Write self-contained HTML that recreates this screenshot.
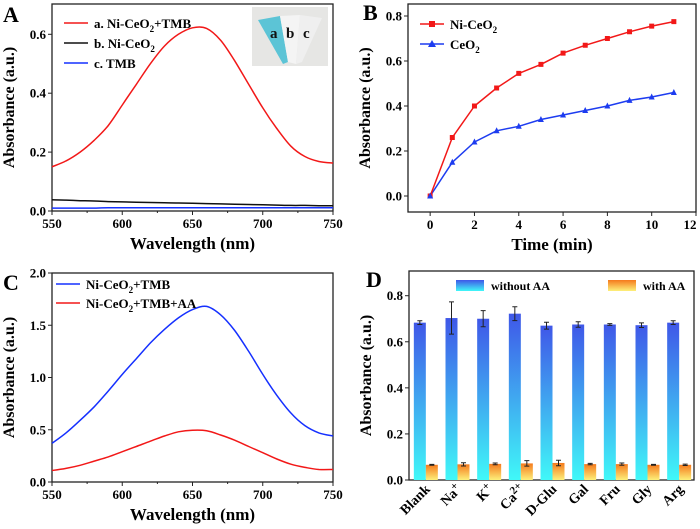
<!DOCTYPE html>
<html><head><meta charset="utf-8"><style>
body{margin:0;background:#fff}
svg{display:block;font-family:"Liberation Serif",serif;font-weight:bold}
</style></head><body>
<svg id="s" width="700" height="529" viewBox="0 0 700 529">
<defs>
<linearGradient id="gb" x1="0" y1="0" x2="0" y2="1"><stop offset="0" stop-color="#3f57e8"/><stop offset="1" stop-color="#40f8f8"/></linearGradient>
<linearGradient id="go" x1="0" y1="0" x2="0" y2="1"><stop offset="0" stop-color="#f57a1c"/><stop offset="1" stop-color="#fdf07a"/></linearGradient>
</defs>
</svg>
<script>
// Panel A data
const wl = [550,560,570,580,590,600,610,620,630,640,650,660,670,680,690,700,710,720,730,740,750];
const aRed = [0.15,0.17,0.20,0.24,0.29,0.36,0.43,0.50,0.56,0.60,0.622,0.62,0.58,0.51,0.43,0.35,0.28,0.22,0.185,0.168,0.163];
const aBlack = [0.038,0.037,0.035,0.034,0.032,0.031,0.030,0.029,0.028,0.027,0.026,0.025,0.024,0.023,0.022,0.021,0.020,0.019,0.019,0.018,0.018];
const aBlue = [0.010,0.010,0.010,0.010,0.011,0.011,0.011,0.011,0.011,0.011,0.011,0.011,0.011,0.011,0.011,0.011,0.011,0.011,0.011,0.011,0.011];
// Panel B data
const times = [0,1,2,3,4,5,6,7,8,9,10,11];
const bNi = [0,0.26,0.40,0.48,0.545,0.585,0.635,0.67,0.70,0.73,0.755,0.775];
const bCe = [0,0.15,0.24,0.29,0.31,0.34,0.36,0.38,0.40,0.425,0.44,0.46];
// Panel C data
const cBlue = [0.37,0.47,0.59,0.72,0.87,1.03,1.18,1.33,1.46,1.57,1.65,1.68,1.60,1.45,1.25,1.03,0.83,0.66,0.54,0.47,0.44];
const cRed = [0.11,0.13,0.16,0.20,0.24,0.29,0.34,0.39,0.44,0.48,0.495,0.49,0.45,0.40,0.34,0.28,0.22,0.17,0.14,0.12,0.12];
// Panel D data
const cats = ["Blank","Na+","K+","Ca2+","D-Glu","Gal","Fru","Gly","Arg"];
const dWithout = [0.683,0.703,0.700,0.722,0.670,0.675,0.675,0.672,0.683];
const dWithoutErr = [0.008,0.07,0.035,0.03,0.015,0.012,0.004,0.01,0.008];
const dWith = [0.066,0.068,0.070,0.072,0.074,0.069,0.069,0.066,0.066];
const dWithErr = [0.002,0.007,0.004,0.012,0.012,0.003,0.005,0.002,0.003];
const ticksA = [0,0.2,0.4,0.6], ticksB = [0,0.2,0.4,0.6,0.8], ticksC = [0,0.5,1.0,1.5,2.0], ticksD = [0,0.2,0.4,0.6,0.8];
const ticksWl = [550,600,650,700,750], ticksT = [0,2,4,6,8,10,12];

const S = document.getElementById('s');
const NS = 'http://www.w3.org/2000/svg';
function el(tag, attrs, parent, text){
  const e = document.createElementNS(NS, tag);
  for (const k in attrs) e.setAttribute(k, attrs[k]);
  if (text !== undefined) e.textContent = text;
  (parent || S).appendChild(e);
  return e;
}
function lin(d0,d1,r0,r1){return v => r0 + (v-d0)/(d1-d0)*(r1-r0);}

function frame(name, x0,y0,x1,y1, sx, sy, xt, yt, ydec, xtitle, letter, lx, ly){
  const g = el('g', {});
  
  
  const r = el('rect', {x:x0,y:y0,width:x1-x0,height:y1-y0,fill:'none',stroke:'#222','stroke-width':1.3}, g);
  
  
  if (xt) xt.forEach(v => {
    const x = sx(v);
    el('line',{x1:x,x2:x,y1:y1,y2:y1+4,stroke:'#222','stroke-width':1},g);
    const t = el('text',{x:Math.min(x,690),y:y1+17,'text-anchor':'middle','font-size':13},g,String(v));
    
    
  });
  yt.forEach(v => {
    const y = sy(v);
    el('line',{x1:x0-4,x2:x0,y1:y,y2:y,stroke:'#222','stroke-width':1},g);
    const t = el('text',{x:x0-6,y:y+4.5,'text-anchor':'end','font-size':13},g,v.toFixed(ydec));
    
    
  });
  if (xtitle){
    const t = el('text',{x:(x0+x1)/2,y:y1+38,'text-anchor':'middle','font-size':17},g,xtitle);
    
    
  }
  const cy = (y0+y1)/2, cx = x0-38;
  const yt2 = el('text',{x:cx,y:cy,'text-anchor':'middle','font-size':16,transform:`rotate(-90 ${cx} ${cy})`},g,'Absorbance (a.u.)');
  
  
  const L = el('text',{x:lx,y:ly,'font-size':22},g,letter);
  
  
  return g;
}
function line(g, xs, ys, sx, sy, color, name, smooth){
  const P = xs.map((x,i)=>[sx(x), sy(ys[i])]);
  let d = 'M'+P[0][0].toFixed(1)+' '+P[0][1].toFixed(1);
  for (let i=1;i<P.length;i++){
    if (smooth){
      const p0=P[Math.max(i-2,0)], p1=P[i-1], p2=P[i], p3=P[Math.min(i+1,P.length-1)];
      const c1=[p1[0]+(p2[0]-p0[0])/6, p1[1]+(p2[1]-p0[1])/6];
      const c2=[p2[0]-(p3[0]-p1[0])/6, p2[1]-(p3[1]-p1[1])/6];
      d += ` C${c1[0].toFixed(1)} ${c1[1].toFixed(1)} ${c2[0].toFixed(1)} ${c2[1].toFixed(1)} ${p2[0].toFixed(1)} ${p2[1].toFixed(1)}`;
    } else d += ` L${P[i][0].toFixed(1)} ${P[i][1].toFixed(1)}`;
  }
  const p = el('path',{d:d,fill:'none',stroke:color,'stroke-width':1.5,'stroke-linejoin':'round'},g);
  
  
  return p;
}
function legLine(g,x,y,color,label,sub,rest,marker){
  el('line',{x1:x,x2:x+24,y1:y,y2:y,stroke:color,'stroke-width':1.6},g);
  if (marker==='sq') el('rect',{x:x+9,y:y-3,width:6,height:6,fill:color},g);
  if (marker==='tri') el('path',{d:`M${x+12} ${y-4} L${x+16} ${y+3} L${x+8} ${y+3}Z`,fill:color},g);
  const t = el('text',{x:x+30,y:y+5,'font-size':13},g);
  
  
  el('tspan',{},t,label);
  if (sub){ el('tspan',{'font-size':9,dy:4},t,sub); if (rest) el('tspan',{dy:-4},t,rest); }
}

// ---- Panel A
{
  const sx = lin(550,750,52,333), sy = lin(0,0.6,211,34.3);
  const g = frame('panel-a',52,4,333,211,sx,sy,ticksWl,ticksA,1,'Wavelength (nm)','A',3,22);
  [575,625,675,725].forEach(v=>el('line',{x1:sx(v),x2:sx(v),y1:211,y2:213,stroke:'#222'},g));
  line(g,wl,aBlack,sx,sy,'#111','line-ni-ceo2',true);
  line(g,wl,aBlue,sx,sy,'#1530ff','line-tmb',true);
  line(g,wl,aRed,sx,sy,'#f21818','line-ni-ceo2-tmb',true);
  legLine(g,64,23,'#f21818','a. Ni-CeO','2','+TMB');
  legLine(g,64,43,'#111','b. Ni-CeO','2');
  legLine(g,64,63,'#1530ff','c. TMB');
  const ins = el('g',{},g);
  
  
  el('rect',{x:252,y:7,width:76,height:59,fill:'#e6e6e4'},ins);
  el('path',{d:'M258 20 L280 16 L288 62 L283 64 Z',fill:'#5cc4d6'},ins);
  el('path',{d:'M280 16 L300 15 L296 64 L288 62 Z',fill:'#f4f4f4'},ins);
  el('path',{d:'M300 15 L322 18 L302 62 L296 64 Z',fill:'#efefef'},ins);
  [['a',270],['b',286],['c',303]].forEach(([c,x])=>el('text',{x:x,y:38,'font-size':15,fill:'#111'},ins,c));
}
// ---- Panel B
{
  const sx = lin(-1,12,408,696), sy = lin(0,0.8,196,16);
  const g = frame('panel-b',408,4,696,212,sx,sy,ticksT,ticksB,1,'Time (min)','B',363,20);
  line(g,times,bCe,sx,sy,'#1d3cf0','line-ceo2');
  line(g,times,bNi,sx,sy,'#f21818','line-ni-ceo2');
  times.forEach((t,i)=>{
    const m = el('rect',{x:sx(t)-2.5,y:sy(bNi[i])-2.5,width:5,height:5,fill:'#f21818'},g);
    
    
    const x=sx(t), y=sy(bCe[i]);
    const tr = el('path',{d:`M${x} ${y-3.5} L${x+3} ${y+2.5} L${x-3} ${y+2.5}Z`,fill:'#1d3cf0'},g);
    
    
  });
  legLine(g,420,24,'#f21818','Ni-CeO','2','', 'sq');
  legLine(g,420,44,'#1d3cf0','CeO','2','', 'tri');
}
// ---- Panel C
{
  const sx = lin(550,750,52,333), sy = lin(0,2.0,482,273);
  const g = frame('panel-c',52,273,333,482,sx,sy,ticksWl,ticksC,1,'Wavelength (nm)','C',3,290);
  [575,625,675,725].forEach(v=>el('line',{x1:sx(v),x2:sx(v),y1:482,y2:484,stroke:'#222'},g));
  line(g,wl,cBlue,sx,sy,'#1530ff','line-ni-ceo2-tmb',true);
  line(g,wl,cRed,sx,sy,'#f21818','line-ni-ceo2-tmb-aa',true);
  legLine(g,56,284,'#1530ff','Ni-CeO','2','+TMB');
  legLine(g,56,303,'#f21818','Ni-CeO','2','+TMB+AA');
}
// ---- Panel D
{
  const sy = lin(0,0.8,480,295.7);
  const x0 = 409, x1 = 694, step = (x1-x0)/cats.length;
  const cx = i => x0 + step*(i+0.5) + 1;
  const g = frame('panel-d',x0,271,x1,480,null,sy,null,ticksD,1,null,'D',366,287);
  const bw = 12;
  cats.forEach((c,i)=>{
    const xc = cx(i);
    const b1 = el('rect',{x:xc-bw,y:sy(dWithout[i]),width:bw,height:sy(0)-sy(dWithout[i]),fill:'url(#gb)'},g);
    
    
    const b2 = el('rect',{x:xc,y:sy(dWith[i]),width:bw,height:sy(0)-sy(dWith[i]),fill:'url(#go)'},g);
    
    
    [[xc-bw/2,dWithout[i],dWithoutErr[i]],[xc+bw/2,dWith[i],dWithErr[i]]].forEach(([x,v,e])=>{
      const eb = el('path',{d:`M${x} ${sy(v+e)} V${sy(v-e)} M${x-2.5} ${sy(v+e)} H${x+2.5} M${x-2.5} ${sy(v-e)} H${x+2.5}`,stroke:'#222','stroke-width':1,fill:'none'},g);
      
      
    });
    const tx = xc+5, ty = 490;
    const t = el('text',{x:tx,y:ty,'text-anchor':'end','font-size':14,transform:`rotate(-45 ${tx} ${ty})`},g);
    
    
    const m = c.match(/^([A-Za-z-]+)(\d?[+]?)$/);
    if (m && m[2]) { el('tspan',{},t,m[1]); el('tspan',{'font-size':11,dy:-5},t,m[2]); }
    else t.textContent = c;
  });
  const l1 = el('rect',{x:456,y:280,width:28,height:11,fill:'url(#gb)'},g);
  
  
  const t1 = el('text',{x:491,y:290,'font-size':12},g,'without AA');
  
  
  const l2 = el('rect',{x:608,y:280,width:28,height:11,fill:'url(#go)'},g);
  
  
  const t2 = el('text',{x:643,y:290,'font-size':12},g,'with AA');
  
  
}
</script>
</body></html>
